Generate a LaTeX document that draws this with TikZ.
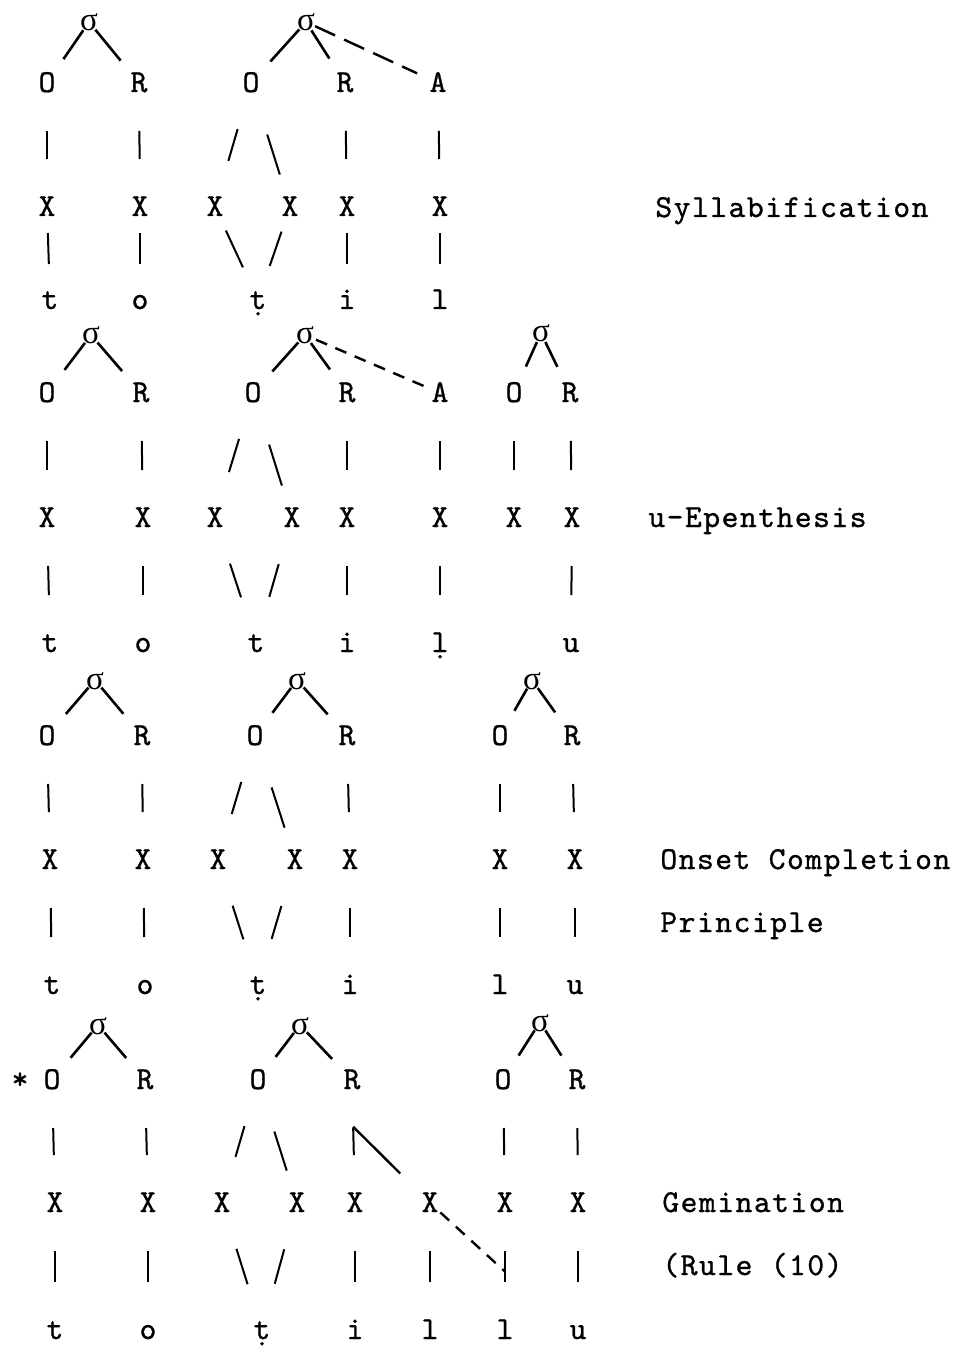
\documentclass[tikz,border=0pt]{standalone}
\usepackage{fontspec}
\newfontfamily\cour{lmmono10-regular.otf}[FakeBold=0.9]
\newfontfamily\courwide{lmmono10-regular.otf}[FakeBold=0.9, LetterSpace=4.7]
\newfontfamily\grk{Liberation Serif}
\usetikzlibrary{calc}

\begin{document}
\begin{tikzpicture}[x=0.5pt,y=-0.5pt,
  sym/.style={inner sep=0pt, text height=9pt, text depth=0pt, font=\cour\fontsize{16}{18}\selectfont},
  sig/.style={inner sep=0pt, text height=9pt, text depth=0pt, font=\grk\fontsize{16.5}{18}\selectfont},
  lbl/.style={anchor=west, inner sep=0pt, text height=9pt, text depth=0pt, font=\courwide\fontsize{16}{18}\selectfont},
  arm/.style={line width=1.3pt, shorten <=5pt, shorten >=14.5pt},
  bar/.style={line width=1pt, shorten <=24pt, shorten >=24pt},
  rbar/.style={line width=1pt, shorten <=27pt, shorten >=17pt},
  lowbar/.style={line width=1pt, shorten <=13pt, shorten >=18pt},
  dsh/.style={line width=1.2pt, dash pattern=on 6pt off 4.5pt}]
  \useasboundingbox (0,0) rectangle (963,1363);
  % Syllabification
  \node [sig] (s11) at (89,22) {σ};
  \node [sig] (s12) at (306,22) {σ};
  \node [sym] (n11) at (47,83) {O};
  \node [sym] (n12) at (139,83) {R};
  \node [sym] (n13) at (251,83) {O};
  \node [sym] (n14) at (345,83) {R};
  \node [sym] (n15) at (438,83) {A};
  \node [sym] (x11) at (47,207) {X};
  \node [sym] (x12) at (140,207) {X};
  \node [sym] (x13) at (215,207) {X};
  \node [sym] (x14) at (290,207) {X};
  \node [sym] (x15) at (347,207) {X};
  \node [sym] (x16) at (440,207) {X};
  \node [sym] (l11) at (50,300) {t};
  \node [sym] (l12) at (140,300) {o};
  \node [sym] (l13) at (258,300) {ṭ};
  \node [sym] (l14) at (347,300) {i};
  \node [sym] (l15) at (440,300) {l};
  \node [lbl] (g1) at (655,208) {Syllabification};
  \draw [arm] (s11.center) -- (n11.center);
  \draw [arm] (s11.center) -- (n12.center);
  \draw [arm] (s12.center) -- (n13.center);
  \draw [arm] (s12.center) -- (n14.center);
  \draw [dsh, dash pattern=on 11pt off 5pt, shorten <=5pt, shorten >=11.5pt] (s12.center) -- (n15.center);
  \draw [bar] (n11.center) -- (x11.center);
  \draw [bar] (n12.center) -- (x12.center);
  \draw [bar] (n13.center) -- (x13.center);
  \draw [rbar] (n13.center) -- (x14.center);
  \draw [bar] (n14.center) -- (x15.center);
  \draw [bar] (n15.center) -- (x16.center);
  \draw [lowbar] (x11.center) -- (l11.center);
  \draw [lowbar] (x12.center) -- (l12.center);
  \draw [lowbar] (x13.center) -- (l13.center);
  \draw [lowbar] (x14.center) -- (l13.center);
  \draw [lowbar] (x15.center) -- (l14.center);
  \draw [lowbar] (x16.center) -- (l15.center);
  % u-Epenthesis
  \node [sig] (s21) at (91,335) {σ};
  \node [sig] (s22) at (305,335) {σ};
  \node [sig] (s23) at (541,333) {σ};
  \node [sym] (n21) at (47,393) {O};
  \node [sym] (n22) at (141,393) {R};
  \node [sym] (n23) at (253,393) {O};
  \node [sym] (n24) at (347,393) {R};
  \node [sym] (n25) at (440,393) {A};
  \node [sym] (n26) at (514,393) {O};
  \node [sym] (n27) at (570,393) {R};
  \node [sym] (x21) at (47,518) {X};
  \node [sym] (x22) at (143,518) {X};
  \node [sym] (x23) at (215,518) {X};
  \node [sym] (x24) at (292,518) {X};
  \node [sym] (x25) at (347,518) {X};
  \node [sym] (x26) at (440,518) {X};
  \node [sym] (x27) at (514,518) {X};
  \node [sym] (x28) at (572,518) {X};
  \node [sym] (l21) at (50,643) {t};
  \node [sym] (l22) at (143,643) {o};
  \node [sym] (l23) at (256,643) {t};
  \node [sym] (l24) at (347,643) {i};
  \node [sym] (l25) at (440,643) {ḷ};
  \node [sym] (l26) at (571,643) {u};
  \node [lbl] (g2) at (648,518) {u-Epenthesis};
  \draw [arm] (s21.center) -- (n21.center);
  \draw [arm] (s21.center) -- (n22.center);
  \draw [arm] (s22.center) -- (n23.center);
  \draw [arm] (s22.center) -- (n24.center);
  \draw [dsh, shorten <=6pt, shorten >=6pt] (s22.center) -- (n25.center);
  \draw [arm] (s23.center) -- (n26.center);
  \draw [arm] (s23.center) -- (n27.center);
  \draw [bar] (n21.center) -- (x21.center);
  \draw [bar] (n22.center) -- (x22.center);
  \draw [bar] (n23.center) -- (x23.center);
  \draw [rbar] (n23.center) -- (x24.center);
  \draw [bar] (n24.center) -- (x25.center);
  \draw [bar] (n25.center) -- (x26.center);
  \draw [bar] (n26.center) -- (x27.center);
  \draw [bar] (n27.center) -- (x28.center);
  \draw [bar] (x21.center) -- (l21.center);
  \draw [bar] (x22.center) -- (l22.center);
  \draw [bar] (x23.center) -- (l23.center);
  \draw [bar] (x24.center) -- (l23.center);
  \draw [bar] (x25.center) -- (l24.center);
  \draw [bar] (x26.center) -- (l25.center);
  \draw [bar] (x28.center) -- (l26.center);
  % Onset Completion Principle
  \node [sig] (s31) at (95,680) {σ};
  \node [sig] (s32) at (297,680) {σ};
  \node [sig] (s33) at (532,680) {σ};
  \node [sym] (n31) at (47,736) {O};
  \node [sym] (n32) at (142,736) {R};
  \node [sym] (n33) at (255,736) {O};
  \node [sym] (n34) at (347,736) {R};
  \node [sym] (n35) at (500,736) {O};
  \node [sym] (n36) at (572,736) {R};
  \node [sym] (x31) at (50,860) {X};
  \node [sym] (x32) at (143,860) {X};
  \node [sym] (x33) at (218,860) {X};
  \node [sym] (x34) at (295,860) {X};
  \node [sym] (x35) at (350,860) {X};
  \node [sym] (x36) at (500,860) {X};
  \node [sym] (x37) at (575,860) {X};
  \node [sym] (l31) at (52,985) {t};
  \node [sym] (l32) at (145,985) {o};
  \node [sym] (l33) at (258,985) {ṭ};
  \node [sym] (l34) at (350,985) {i};
  \node [sym] (l35) at (500,985) {l};
  \node [sym] (l36) at (575,985) {u};
  \node [lbl] (g3) at (660,860) {Onset Completion};
  \node [lbl] (g4) at (660,923) {Principle};
  \draw [arm] (s31.center) -- (n31.center);
  \draw [arm] (s31.center) -- (n32.center);
  \draw [arm] (s32.center) -- (n33.center);
  \draw [arm] (s32.center) -- (n34.center);
  \draw [arm] (s33.center) -- (n35.center);
  \draw [arm] (s33.center) -- (n36.center);
  \draw [bar] (n31.center) -- (x31.center);
  \draw [bar] (n32.center) -- (x32.center);
  \draw [bar] (n33.center) -- (x33.center);
  \draw [rbar] (n33.center) -- (x34.center);
  \draw [bar] (n34.center) -- (x35.center);
  \draw [bar] (n35.center) -- (x36.center);
  \draw [bar] (n36.center) -- (x37.center);
  \draw [bar] (x31.center) -- (l31.center);
  \draw [bar] (x32.center) -- (l32.center);
  \draw [bar] (x33.center) -- (l33.center);
  \draw [bar] (x34.center) -- (l33.center);
  \draw [bar] (x35.center) -- (l34.center);
  \draw [bar] (x36.center) -- (l35.center);
  \draw [bar] (x37.center) -- (l36.center);
  % Gemination
  \node [sym] (st4) at (20,1080) {*};
  \node [sig] (s41) at (98,1025) {σ};
  \node [sig] (s42) at (300,1025) {σ};
  \node [sig] (s43) at (540,1022) {σ};
  \node [sym] (n41) at (52,1080) {O};
  \node [sym] (n42) at (145,1080) {R};
  \node [sym] (n43) at (258,1080) {O};
  \node [sym] (n44) at (352,1080) {R};
  \node [sym] (n45) at (503,1080) {O};
  \node [sym] (n46) at (577,1080) {R};
  \node [sym] (x41) at (55,1203) {X};
  \node [sym] (x42) at (148,1203) {X};
  \node [sym] (x43) at (222,1203) {X};
  \node [sym] (x44) at (297,1203) {X};
  \node [sym] (x45) at (355,1203) {X};
  \node [sym] (x46) at (430,1203) {X};
  \node [sym] (x47) at (505,1203) {X};
  \node [sym] (x48) at (578,1203) {X};
  \node [sym] (l41) at (55,1330) {t};
  \node [sym] (l42) at (148,1330) {o};
  \node [sym] (l43) at (262,1330) {ṭ};
  \node [sym] (l44) at (355,1330) {i};
  \node [sym] (l45) at (430,1330) {l};
  \node [sym] (l46) at (505,1330) {l};
  \node [sym] (l47) at (578,1330) {u};
  \node [lbl] (g5) at (662,1203) {Gemination};
  \node [lbl] (g6) at (662,1266) {(Rule (10)};
  \coordinate (k4) at ($(n44)!0.38!(x45)$);
  \coordinate (j4) at ($(x47)!0.54!(l46)$);
  \draw [arm] (s41.center) -- (n41.center);
  \draw [arm] (s41.center) -- (n42.center);
  \draw [arm] (s42.center) -- (n43.center);
  \draw [arm] (s42.center) -- (n44.center);
  \draw [arm] (s43.center) -- (n45.center);
  \draw [arm] (s43.center) -- (n46.center);
  \draw [bar] (n41.center) -- (x41.center);
  \draw [bar] (n42.center) -- (x42.center);
  \draw [bar] (n43.center) -- (x43.center);
  \draw [rbar] (n43.center) -- (x44.center);
  \draw [line width=1.2pt, shorten >=21pt] (k4) -- (x46.center);
  \draw [bar] (n44.center) -- (x45.center);
  \draw [bar] (n45.center) -- (x47.center);
  \draw [bar] (n46.center) -- (x48.center);
  \draw [bar] (x41.center) -- (l41.center);
  \draw [bar] (x42.center) -- (l42.center);
  \draw [bar] (x43.center) -- (l43.center);
  \draw [bar] (x44.center) -- (l43.center);
  \draw [bar] (x45.center) -- (l44.center);
  \draw [bar] (x46.center) -- (l45.center);
  \draw [bar] (x47.center) -- (l46.center);
  \draw [bar] (x48.center) -- (l47.center);
  \draw [dsh, shorten <=7pt] (x46.center) -- (j4);
\end{tikzpicture}
\end{document}
